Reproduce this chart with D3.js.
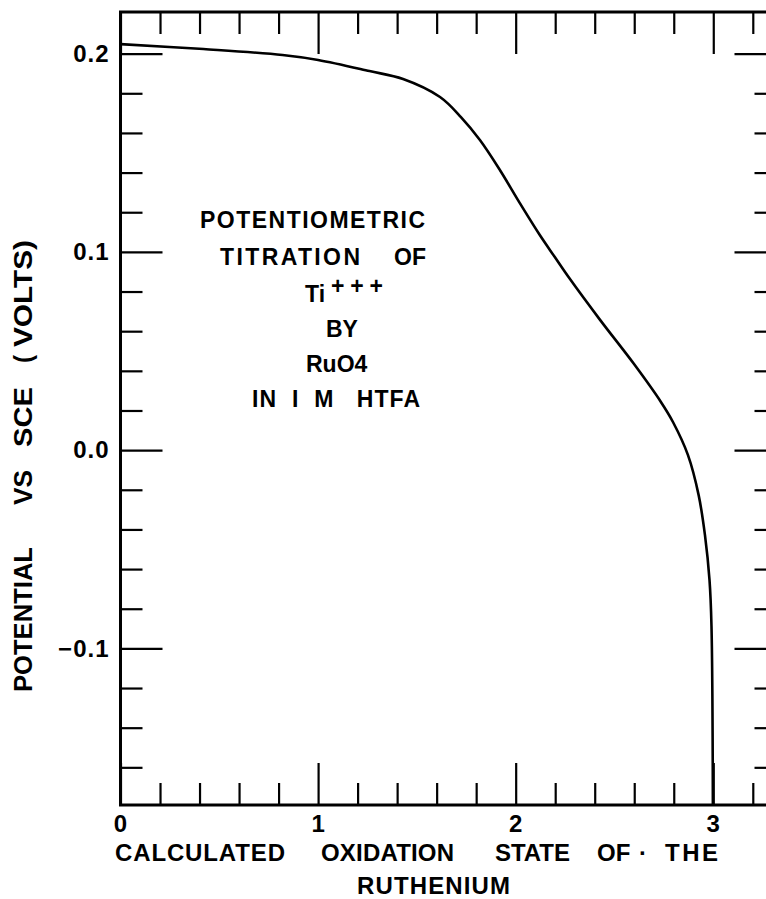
<!DOCTYPE html>
<html>
<head>
<meta charset="utf-8">
<script src="https://cdn.jsdelivr.net/npm/d3@7"></script>
<style>
  body { margin: 0; background: #fff; }
  text { font-family: "Liberation Sans", Arial, sans-serif; font-weight: bold; fill: #000; }
</style>
</head>
<body>
<script>
"use strict";

// titration curve
const oxState = [0, 0.42, 0.82, 1.0, 1.26, 1.43, 1.617, 1.723, 1.819, 1.92, 2.021, 2.122, 2.198, 2.274, 2.427, 2.599, 2.735, 2.796, 2.872, 2.926, 2.958, 2.981, 2.991, 2.998];
const potential = [0.2048, 0.2023, 0.1993, 0.1968, 0.1912, 0.1872, 0.1781, 0.168, 0.1564, 0.1413, 0.1246, 0.1085, 0.0974, 0.0864, 0.0657, 0.0434, 0.0243, 0.0142, -0.0025, -0.0227, -0.0429, -0.0656, -0.0888, -0.179];

const xMajor = [0, 1, 2, 3];
const xMinor = d3.range(1, 17).map(i => +(i * 0.2).toFixed(1)).filter(v => !xMajor.includes(v));
const yMajor = [-0.1, 0.0, 0.1, 0.2];
const yMinor = d3.range(-8, 11).map(i => +(i * 0.02).toFixed(2)).filter(v => !yMajor.some(m => Math.abs(m - v) < 1e-9));

const xDomain = [0, 3.32];
const yDomain = [-0.179, 0.221];

const width = 766, height = 899;

const svg = d3.select("body").append("svg")
    .attr("width", width)
    .attr("height", height);

const x = d3.scaleLinear().domain(xDomain).range([120.5, 776.5]);
const y = d3.scaleLinear().domain(yDomain).range([805, 12]);

const majorLen = 42, minorLen = 22;

function styleAxis(g) {
    g.select(".domain").remove();
    g.selectAll(".tick line").attr("stroke", "#000").attr("stroke-width", 2.2);
    g.selectAll("text")
        .attr("font-family", null)
        .style("font-size", "24px")
        .style("letter-spacing", "1px");
}

// bottom
svg.append("g").attr("transform", `translate(0,${y(yDomain[0])})`)
    .call(d3.axisBottom(x).tickValues(xMinor).tickSize(-minorLen).tickFormat(""))
    .call(styleAxis);
svg.append("g").attr("transform", `translate(0,${y(yDomain[0])})`)
    .call(d3.axisBottom(x).tickValues(xMajor).tickSize(-majorLen).tickPadding(10).tickFormat(d3.format("d")))
    .call(styleAxis);

// top
svg.append("g").attr("transform", `translate(0,${y(yDomain[1])})`)
    .call(d3.axisTop(x).tickValues(xMinor).tickSize(-minorLen).tickFormat(""))
    .call(styleAxis);
svg.append("g").attr("transform", `translate(0,${y(yDomain[1])})`)
    .call(d3.axisTop(x).tickValues(xMajor).tickSize(-majorLen).tickFormat(""))
    .call(styleAxis);

// left
svg.append("g").attr("transform", `translate(${x(xDomain[0])},0)`)
    .call(d3.axisLeft(y).tickValues(yMinor).tickSize(-minorLen).tickFormat(""))
    .call(styleAxis);
svg.append("g").attr("transform", `translate(${x(xDomain[0])},0)`)
    .call(d3.axisLeft(y).tickValues(yMajor).tickSize(-majorLen).tickPadding(11).tickFormat(d3.format(".1f")))
    .call(styleAxis);

// right
svg.append("g").attr("transform", `translate(${x(xDomain[1])},0)`)
    .call(d3.axisRight(y).tickValues(yMinor).tickSize(-minorLen).tickFormat(""))
    .call(styleAxis);
svg.append("g").attr("transform", `translate(${x(xDomain[1])},0)`)
    .call(d3.axisRight(y).tickValues(yMajor).tickSize(-majorLen).tickFormat(""))
    .call(styleAxis);

// frame
svg.append("rect")
    .attr("x", x(xDomain[0]))
    .attr("y", y(yDomain[1]))
    .attr("width", x(xDomain[1]) - x(xDomain[0]))
    .attr("height", y(yDomain[0]) - y(yDomain[1]))
    .attr("fill", "none")
    .attr("stroke", "#000")
    .attr("stroke-width", 3);

// curve
const line = d3.line()
    .x(d => x(d[0]))
    .y(d => y(d[1]))
    .curve(d3.curveCatmullRom.alpha(0.5));

svg.append("path")
    .datum(oxState.map((v, i) => [v, potential[i]]))
    .attr("d", line)
    .attr("fill", "none")
    .attr("stroke", "#000")
    .attr("stroke-width", 2.6);

// x title
const xTitle = svg.append("text").attr("y", 861).style("font-size", "24px");
[["CALCULATED", 115, 170], ["OXIDATION", 321, 133], ["STATE", 495, 75]]
    .forEach(w => {
        xTitle.append("tspan").attr("x", w[1]).attr("textLength", w[2]).attr("lengthAdjust", "spacing").text(w[0]);
    });
xTitle.append("tspan").attr("x", 597).text("OF");
xTitle.append("tspan").attr("x", 639).text("\u00b7");
xTitle.append("tspan").attr("x", 665).attr("textLength", 53).attr("lengthAdjust", "spacing").text("THE");
svg.append("text").attr("x", 357).attr("y", 894)
    .attr("textLength", 153).attr("lengthAdjust", "spacing")
    .style("font-size", "24px")
    .text("RUTHENIUM");

// y title
const yTitle = svg.append("text")
    .attr("transform", "translate(32,0) rotate(-90)")
    .style("font-size", "25px");
[["POTENTIAL", -692, 145], ["VS", -505, 35], ["SCE", -447, 60], ["(", -363, 8], ["VOLTS)", -347, 107]]
    .forEach(w => {
        yTitle.append("tspan").attr("x", w[1]).attr("textLength", w[2]).attr("lengthAdjust", "spacingAndGlyphs").text(w[0]);
    });

// annotation block
const note = svg.append("g").style("font-size", "23px");
note.append("text").attr("x", 200).attr("y", 228).attr("textLength", 225).attr("lengthAdjust", "spacing").text("POTENTIOMETRIC");
note.append("text").attr("x", 220).attr("y", 265).attr("textLength", 140).attr("lengthAdjust", "spacing").text("TITRATION");
note.append("text").attr("x", 394).attr("y", 265).text("OF");
const ti = note.append("text").attr("x", 305).attr("y", 302);
ti.append("tspan").text("Ti");
ti.append("tspan").attr("dx", 6).attr("dy", -8).attr("textLength", 52).attr("lengthAdjust", "spacing").text("+++");
note.append("text").attr("x", 326).attr("y", 337).text("BY");
note.append("text").attr("x", 306).attr("y", 372).text("RuO4");
note.append("text").attr("x", 252).attr("y", 407).attr("textLength", 168).attr("lengthAdjust", "spacing")
    .style("white-space", "pre").text("IN  I  M   HTFA");
</script>
</body>
</html>
